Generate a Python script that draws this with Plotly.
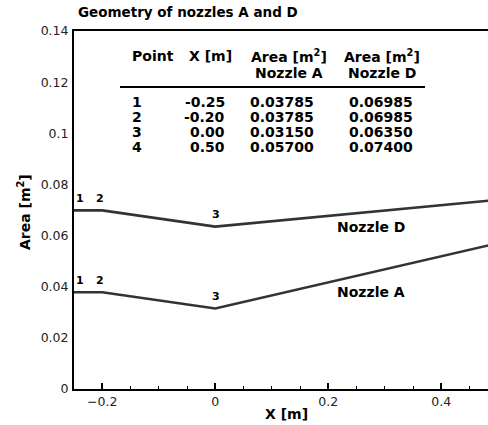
import plotly.graph_objects as go

# ---- data ----
points = ["1", "2", "3", "4"]
x_m = [-0.25, -0.20, 0.00, 0.50]
area_A = [0.03785, 0.03785, 0.03150, 0.05700]
area_D = [0.06985, 0.06985, 0.06350, 0.07400]
x_ticks = [-0.2, 0, 0.2, 0.4]
y_ticks = [0, 0.02, 0.04, 0.06, 0.08, 0.1, 0.12, 0.14]

W, H = 488, 425
L, R, T, B = 74, 0, 31, 36
XR = [-0.25, -0.25 + (W - L - R) / 565.0]
YR = [0, 0.14]
FONT = "DejaVu Sans"

pw, ph = W - L - R, H - T - B


def px2x(px):
    return XR[0] + (px - L) / pw * (XR[1] - XR[0])


def py2y(py):
    return YR[0] + (H - B - py) / ph * (YR[1] - YR[0])


def px2paper(px):
    return (px - L) / pw


def py2paper(py):
    return (H - B - py) / ph


fig = go.Figure()
for name, vals in [("Nozzle D", area_D), ("Nozzle A", area_A)]:
    fig.add_trace(go.Scatter(x=x_m, y=vals, mode="lines", name=name,
                             line=dict(color="#333333", width=2.6),
                             showlegend=False, hoverinfo="skip"))

bold = lambda s: dict(family=FONT, size=s, color="black", weight="bold")
ann = []

# point labels on the curves
for vals in [area_D, area_A]:
    for i, (p, xv, yv) in enumerate(zip(points, x_m, vals)):
        xs = 6 if i == 0 else (-2 if i == 1 else 1)
        if xv <= XR[1]:
            ann.append(dict(x=xv, y=yv, xref="x", yref="y", text=p, showarrow=False,
                            xshift=xs, yshift=12, xanchor="center", yanchor="middle",
                            font=bold(11)))
        else:
            ann.append(dict(x=(xv - XR[0]) / (XR[1] - XR[0]), y=yv, xref="paper", yref="y",
                            text=p, showarrow=False, xshift=-4, yshift=12,
                            xanchor="center", yanchor="middle", font=bold(11)))

# curve names
ann.append(dict(x=px2x(371), y=py2y(227), text="Nozzle D", showarrow=False,
                xanchor="center", yanchor="middle", font=bold(14)))
ann.append(dict(x=px2x(371), y=py2y(292), text="Nozzle A", showarrow=False,
                xanchor="center", yanchor="middle", font=bold(14)))

# table headers
ann.append(dict(x=px2x(130), y=py2y(56), text="Point", showarrow=False,
                xanchor="left", yanchor="middle", font=bold(14)))
ann.append(dict(x=px2x(210), y=py2y(56), text="X [m]", showarrow=False,
                xanchor="center", yanchor="middle", font=bold(14)))
for cx, nm in [(289, "Nozzle A"), (382, "Nozzle D")]:
    ann.append(dict(x=px2x(cx), y=py2y(67), text="Area [m<sup>2</sup>]", showarrow=False,
                    xanchor="center", yanchor="bottom", font=bold(14)))
    ann.append(dict(x=px2x(cx), y=py2y(63), text=nm, showarrow=False,
                    xanchor="center", yanchor="top", font=bold(14)))

# table rows
row_y = [102, 117, 132, 147]
for p, xv, a, d, ry in zip(points, x_m, area_A, area_D, row_y):
    yy = py2y(ry)
    ann.append(dict(x=px2x(130), y=yy, text=p, showarrow=False,
                    xanchor="left", yanchor="middle", font=bold(14)))
    ann.append(dict(x=px2x(227), y=yy, text=f"{xv:.2f}", showarrow=False,
                    xanchor="right", yanchor="middle", font=bold(14)))
    ann.append(dict(x=px2x(248), y=yy, text=f"{a:.5f}", showarrow=False,
                    xanchor="left", yanchor="middle", font=bold(14)))
    ann.append(dict(x=px2x(347), y=yy, text=f"{d:.5f}", showarrow=False,
                    xanchor="left", yanchor="middle", font=bold(14)))

# axis titles
ann.append(dict(x=px2paper(24), y=py2paper(212), xref="paper", yref="paper",
                text="Area [m<sup>2</sup>]", textangle=-90, showarrow=False,
                xanchor="center", yanchor="middle", font=bold(14)))
ann.append(dict(x=px2paper(286), y=py2paper(414), xref="paper", yref="paper",
                text="X [m]", showarrow=False,
                xanchor="center", yanchor="middle", font=bold(14)))

fig.update_layout(
    width=W, height=H,
    margin=dict(l=L, r=R, t=T, b=B),
    paper_bgcolor="white", plot_bgcolor="white",
    title=dict(text="Geometry of nozzles A and D", x=78 / W, xanchor="left",
               xref="container", y=1 - 12 / H, yanchor="middle",
               font=dict(family=FONT, size=13.5, color="black", weight="bold")),
    annotations=ann,
    shapes=[dict(type="line", xref="x", yref="y", x0=px2x(120), x1=px2x(425),
                 y0=py2y(87), y1=py2y(87), line=dict(color="black", width=2))],
    xaxis=dict(range=XR, showgrid=False, zeroline=False, showline=True, linecolor="black",
               linewidth=2, mirror=True, ticks="inside", ticklen=6, tickwidth=2,
               tickcolor="black", tickvals=x_ticks,
               minor=dict(ticks="inside", ticklen=3, tickwidth=1, tickcolor="black", dtick=0.05),
               tickfont=dict(family=FONT, size=12.5, color="#222222")),
    yaxis=dict(range=YR, showgrid=False, zeroline=False, showline=True, linecolor="black",
               linewidth=2, ticks="", tickvals=y_ticks, ticklabelstandoff=1,
               tickfont=dict(family=FONT, size=12.5, color="#222222")),
)

fig.write_html("out.html")
